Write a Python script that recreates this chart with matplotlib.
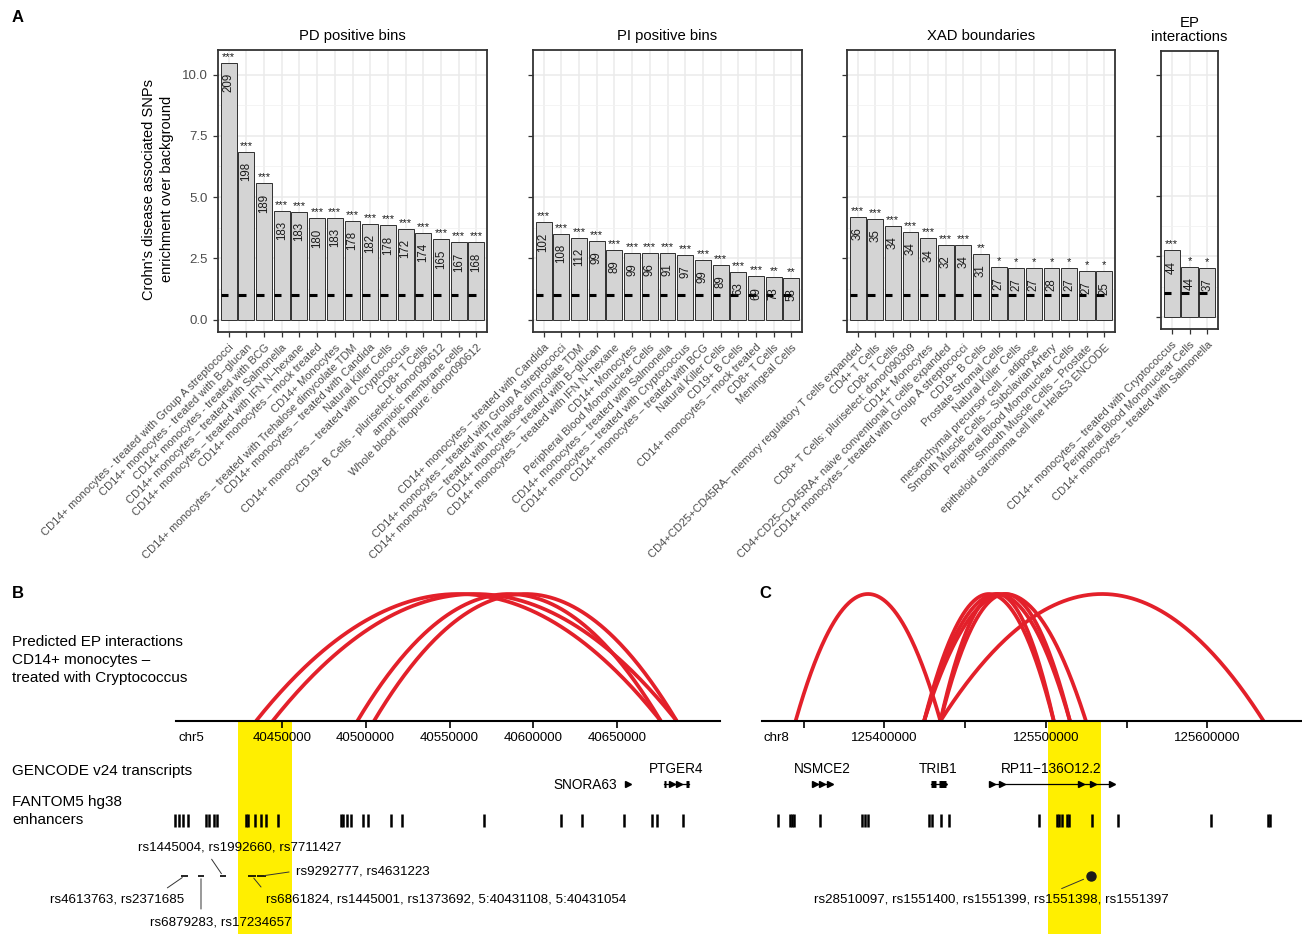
import matplotlib.pyplot as plt
from matplotlib.patches import Rectangle
import numpy as np

W, H = 1302, 934
plt.rcParams['font.family'] = ['Liberation Sans', 'DejaVu Sans']

# ---------------- A: enrichment of Crohn's disease SNPs ----------------
pd_labels = [
    "CD14+ monocytes - treated with Group A streptococci",
    "CD14+ monocytes - treated with B\u2212glucan",
    "CD14+ monocytes - treated with BCG",
    "CD14+ monocytes \u2013 treated with Salmonella",
    "CD14+ monocytes \u2013 treated with IFN N\u2212hexane",
    "CD14+ monocytes \u2013 mock treated",
    "CD14+ Monocytes",
    "CD14+ monocytes \u2013 treated with Trehalose dimycolate TDM",
    "CD14+ monocytes \u2013 treated with Candida",
    "Natural Killer Cells",
    "CD14+ monocytes \u2013 treated with Cryptococcus",
    "CD8+ T Cells",
    "CD19+ B Cells - pluriselect: donor090612",
    "amniotic membrane cells",
    "Whole blood: ribopure: donor090612",
]
pd_values = [10.48, 6.84, 5.56, 4.45, 4.40, 4.15, 4.15, 4.03, 3.91, 3.85, 3.70, 3.55, 3.29, 3.16, 3.15]
pd_counts = [209, 198, 189, 183, 183, 180, 183, 178, 182, 178, 172, 174, 165, 167, 168]
pd_stars = ['***'] * 15

pi_labels = [
    "CD14+ monocytes \u2013 treated with Candida",
    "CD14+ monocytes \u2013 treated with Group A streptococci",
    "CD14+ monocytes \u2013 treated with Trehalose dimycolate TDM",
    "CD14+ monocytes \u2013 treated with B\u2212glucan",
    "CD14+ monocytes \u2013 treated with IFN N\u2212hexane",
    "CD14+ Monocytes",
    "Peripheral Blood Mononuclear Cells",
    "CD14+ monocytes \u2013 treated with Salmonella",
    "CD14+ monocytes \u2013 treated with Cryptococcus",
    "CD14+ monocytes \u2013 treated with BCG",
    "Natural Killer Cells",
    "CD19+ B Cells",
    "CD14+ monocytes \u2013 mock treated",
    "CD8+ T Cells",
    "Meningeal Cells",
]
pi_values = [3.97, 3.50, 3.35, 3.21, 2.84, 2.72, 2.71, 2.71, 2.64, 2.45, 2.22, 1.95, 1.77, 1.74, 1.71]
pi_counts = [102, 108, 112, 99, 89, 99, 96, 91, 97, 99, 89, 63, 69, 73, 53]
pi_stars = ['***'] * 13 + ['**'] * 2

xad_labels = [
    "CD4+CD25+CD45RA\u2013 memory regulatory T cells expanded",
    "CD4+ T Cells",
    "CD8+ T Cells",
    "CD8+ T Cells: pluriselect: donor090309",
    "CD14+ Monocytes",
    "CD4+CD25\u2013CD45RA+ naive conventional T cells expanded",
    "CD14+ monocytes \u2013 treated with Group A streptococci",
    "CD19+ B Cells",
    "Prostate Stromal Cells",
    "Natural Killer Cells",
    "mesenchymal precursor cell \u2013 adipose",
    "Smooth Muscle Cells \u2013 Subclavian Artery",
    "Peripheral Blood Mononuclear Cells",
    "Smooth Muscle Cells \u2013 Prostate",
    "epitheloid carcinoma cell line HelaS3 ENCODE",
]
xad_values = [4.19, 4.11, 3.84, 3.58, 3.32, 3.05, 3.05, 2.69, 2.15, 2.12, 2.11, 2.10, 2.10, 2.00, 1.97]
xad_counts = [36, 35, 34, 34, 34, 32, 34, 31, 27, 27, 27, 28, 27, 27, 25]
xad_stars = ['***'] * 7 + ['**'] + ['*'] * 7

ep_labels = [
    "CD14+ monocytes \u2013 treated with Cryptococcus",
    "Peripheral Blood Mononuclear Cells",
    "CD14+ monocytes \u2013 treated with Salmonella",
]
ep_values = [2.75, 2.06, 2.03]
ep_counts = [44, 44, 37]
ep_stars = ['***', '*', '*']

background = 1.0

# ---------------- B: chr5 PTGER4 locus ----------------
b_chrom = 'chr5'
b_xlim = (40387000, 40711200)
b_ticks = [40450000, 40500000, 40550000, 40600000, 40650000]
b_arcs = [(40434700, 40675900), (40444600, 40685400),
          (40495100, 40675900), (40505000, 40685400)]
b_enhancers = [40386500, 40388900, 40391100, 40393900, 40405000, 40406600, 40409700,
               40411300, 40428500, 40430200, 40434200, 40437400, 40440900, 40447500,
               40485200, 40486800, 40489200, 40491200, 40498300, 40501300, 40515400,
               40521500, 40570800, 40616200, 40628800, 40653800, 40670900, 40673500,
               40689100]
b_highlight = (40424100, 40456400)
# gene: name, start, end, exons, arrow positions, label side
b_genes = [
    ('SNORA63', 40655900, 40656700, [], [40656300], 'left'),
    ('PTGER4', 40677600, 40692700, [(40677600, 40679300), (40691000, 40692700)],
     [40682500, 40686500], 'top'),
]
b_snps = [(40390000, 40394200), (40400100, 40403700), (40413200, 40416800),
          (40429900, 40434700), (40435300, 40440600)]
# label text, snp index, label position, alignment, leader attach point on the text box
b_snp_labels = [
    ("rs4613763, rs2371685", 0, (40351800, 899), 'center', (0.82, 1.0)),
    ("rs6879283, rs17234657", 1, (40413700, 922), 'center', (0.36, 1.0)),
    ("rs1445004, rs1992660, rs7711427", 2, (40425100, 847), 'center', (0.34, 0.0)),
    ("rs6861824, rs1445001, rs1373692, 5:40431108, 5:40431054", 3, (40440600, 899), 'left', (0.0, 1.0)),
    ("rs9292777, rs4631223", 4, (40458500, 871), 'left', (0.0, 0.5)),
]

# ---------------- C: chr8 TRIB1 locus ----------------
c_chrom = 'chr8'
c_xlim = (125323900, 125658600)
c_ticks = [125350000, 125400000, 125450000, 125500000, 125550000, 125600000]
c_tick_labels = ['', '125400000', '', '125500000', '', '125600000']
c_arcs = [(125345000, 125434700),
          (125424600, 125504900), (125424600, 125514900), (125424600, 125524800),
          (125434700, 125504900), (125434700, 125514900),
          (125434700, 125634800)]
c_enhancers = [125333900, 125341400, 125342800, 125343900, 125360200, 125386200,
               125387900, 125390000, 125427600, 125429300, 125435000, 125440200,
               125495700, 125506600, 125508200, 125509900, 125512800, 125514500,
               125528600, 125544500, 125602400, 125637600, 125638700]
c_highlight = (125501300, 125534400)
c_genes = [
    ('NSMCE2', 125356000, 125367400, [], [125356800, 125361500, 125366300], 'top'),
    ('TRIB1', 125428700, 125438100, [(125428700, 125432200), (125433800, 125438100)],
     [125437000], 'top'),
    ('RP11\u2212136O12.2', 125465300, 125541300, [],
     [125466400, 125472600, 125521900, 125529200, 125540700], 'top'),
]
c_snp = 125528100
c_snp_label = "rs28510097, rs1551400, rs1551399, rs1551398, rs1551397"
c_snp_label_pos = (125466000, 899)

ARC_RED = '#E3202A'
HIGHLIGHT = '#FFEF00'

fig = plt.figure(figsize=(W / 100, H / 100), dpi=100)


def px_axes(left, top, right, bottom):
    return fig.add_axes([left / W, 1 - bottom / H, (right - left) / W, (bottom - top) / H])


def fig_text(x, y, s, **kw):
    return fig.text(x / W, 1 - y / H, s, **kw)


def enrichment_panel(ax, labels, values, counts, stars, title, show_y=False):
    x = np.arange(1, len(values) + 1)
    ax.set_xlim(0.4, len(values) + 0.6)
    ax.set_ylim(-0.5, 11.0)
    ax.set_yticks([0, 2.5, 5, 7.5, 10])
    ax.set_yticks([1.25, 3.75, 6.25, 8.75], minor=True)
    ax.grid(True, which='major', color='#EBEBEB', lw=1.1)
    ax.grid(True, which='minor', axis='y', color='#F2F2F2', lw=0.6)
    ax.set_axisbelow(True)
    ax.bar(x, values, width=0.9, color='#D4D4D4', edgecolor='#303030', lw=0.7, zorder=2)
    ax.hlines(np.full(len(x), background), x - 0.45, x - 0.02, color='black', lw=2.2, zorder=3)
    for xi, v, n, s in zip(x, values, counts, stars):
        ax.text(xi, v - 0.42, str(n), rotation=90, ha='center', va='top',
                fontsize=8.3, color='#1A1A1A', zorder=4)
        ax.text(xi, v + 0.04, s, ha='center', va='bottom', fontsize=8, color='#1A1A1A')
    ax.set_xticks(x)
    ax.set_xticklabels(labels, rotation=45, ha='right', va='top', rotation_mode='anchor',
                       fontsize=8, color='#4D4D4D')
    ax.tick_params(which='major', length=3.5, width=0.9, color='#333333', pad=4)
    ax.tick_params(which='minor', length=0)
    ax.tick_params(axis='y', labelsize=9.5, labelcolor='#4D4D4D', labelleft=show_y)
    if show_y:
        ax.set_yticklabels(['0.0', '2.5', '5.0', '7.5', '10.0'])
    for sp in ax.spines.values():
        sp.set_color('#333333')
        sp.set_linewidth(1.3)
    ax.set_title(title, fontsize=10.7, pad=7, linespacing=1.05)


ax_pd = px_axes(218, 50, 487, 332)
enrichment_panel(ax_pd, pd_labels, pd_values, pd_counts, pd_stars, 'PD positive bins', show_y=True)
ax_pi = px_axes(533, 50, 802, 332)
enrichment_panel(ax_pi, pi_labels, pi_values, pi_counts, pi_stars, 'PI positive bins')
ax_xad = px_axes(847, 50, 1115, 332)
enrichment_panel(ax_xad, xad_labels, xad_values, xad_counts, xad_stars, 'XAD boundaries')
ax_ep = px_axes(1161, 51, 1218, 329)
enrichment_panel(ax_ep, ep_labels, ep_values, ep_counts, ep_stars, 'EP\ninteractions')

fig_text(158, 189, "Crohn's disease associated SNPs\nenrichment over background",
         rotation=90, ha='center', va='center', fontsize=10.5, linespacing=1.4)

# ---------------- genome tracks ----------------
BASE = 721
ARC_H = 127
GENE_Y = 784
ENH = (814, 827)
SNP_Y = 876


def genome_track(ax, chrom, xlim, ticks, tick_labels, arcs, enhancers, genes, highlight):
    ax.set_xlim(*xlim)
    ax.set_ylim(934, 580)
    ax.axis('off')
    ax.add_patch(Rectangle((highlight[0], BASE + 1), highlight[1] - highlight[0], 934 - BASE,
                           color=HIGHLIGHT, lw=0, zorder=0, clip_on=False))
    t = np.linspace(0, 1, 200)
    for s, e in arcs:
        ax.plot(s + (e - s) * t, BASE - ARC_H * 4 * t * (1 - t), color=ARC_RED, lw=2.7,
                solid_capstyle='butt', zorder=3, clip_on=False)
    ax.plot(xlim, [BASE, BASE], color='black', lw=1.5, zorder=4, clip_on=False)
    ax.vlines(ticks, BASE, BASE + 7, color='black', lw=1.2, zorder=4)
    for tk, lab in zip(ticks, tick_labels):
        ax.text(tk, 738, lab, ha='center', va='center', fontsize=9.5, zorder=5)
    ax.text(xlim[0] + (xlim[1] - xlim[0]) * 0.004, 738, chrom, ha='left', va='center', fontsize=9.5)
    ax.vlines(enhancers, ENH[0], ENH[1], color='black', lw=1.8, zorder=3, clip_on=False)
    for name, start, end, exons, arrows, side in genes:
        ax.plot([start, end], [GENE_Y, GENE_Y], color='black', lw=0.9, zorder=3)
        for es, ee in exons:
            ax.plot([es, ee], [GENE_Y, GENE_Y], color='black', lw=5, solid_capstyle='butt', zorder=3)
        ax.plot(arrows, [GENE_Y] * len(arrows), ls='none', marker='>', ms=4.5,
                color='black', zorder=3)
        if side == 'top':
            ax.text((start + end) / 2, 769, name, ha='center', va='center', fontsize=9.8)
        else:
            ax.text(start - (xlim[1] - xlim[0]) * 0.018, GENE_Y + 1, name,
                    ha='right', va='center', fontsize=9.8)


ax_b = px_axes(176, 580, 720, 934)
genome_track(ax_b, b_chrom, b_xlim, b_ticks, [str(v) for v in b_ticks], b_arcs,
             b_enhancers, b_genes, b_highlight)
ax_b.hlines(np.full(len(b_snps), SNP_Y), [s for s, e in b_snps], [e for s, e in b_snps],
            color='black', lw=1.2, zorder=3)
for text, idx, (lx, ly), ha, rel in b_snp_labels:
    s, e = b_snps[idx]
    ax_b.annotate(text, xy=((s + e) / 2, SNP_Y), xytext=(lx, ly), ha=ha, va='center',
                  fontsize=9.6, annotation_clip=False,
                  arrowprops=dict(arrowstyle='-', color='#333333', lw=0.7, relpos=rel,
                                  shrinkA=3, shrinkB=2))

ax_c = px_axes(761.5, 580, 1302, 934)
genome_track(ax_c, c_chrom, c_xlim, c_ticks, c_tick_labels, c_arcs,
             c_enhancers, c_genes, c_highlight)
ax_c.plot([c_snp], [SNP_Y], 'o', color='#1A1A1A', ms=6.5, zorder=4)
ax_c.annotate(c_snp_label, xy=(c_snp, SNP_Y), xytext=c_snp_label_pos, ha='center', va='center',
              fontsize=9.6, annotation_clip=False,
              arrowprops=dict(arrowstyle='-', color='#333333', lw=0.7, relpos=(0.67, 1.0),
                              shrinkA=3, shrinkB=6))

# track names on the left
fig_text(12, 660, "Predicted EP interactions\nCD14+ monocytes \u2013\ntreated with Cryptococcus",
         ha='left', va='center', fontsize=11, linespacing=1.4)
fig_text(12, 771, "GENCODE v24 transcripts", ha='left', va='center', fontsize=11)
fig_text(12, 811, "FANTOM5 hg38\nenhancers", ha='left', va='center', fontsize=11, linespacing=1.4)

# panel letters
for letter, (lx, ly) in zip('ABC', [(18, 18), (18, 593), (765, 593)]):
    fig_text(lx, ly, letter, ha='center', va='center', fontsize=12, fontweight='bold')

fig.savefig('out.png', dpi=100)
